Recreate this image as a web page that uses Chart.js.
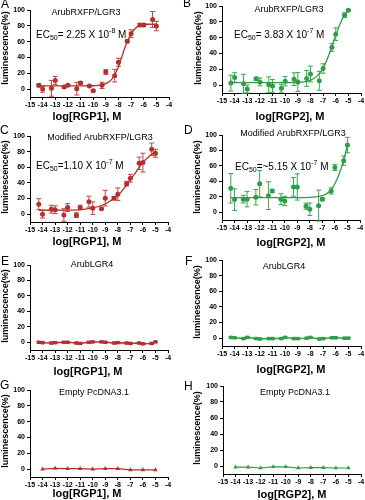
<!DOCTYPE html>
<html>
<head>
<meta charset="utf-8">
<title>RGP1 / RGP2 luminescence</title>
<script src="https://cdn.jsdelivr.net/npm/chart.js"></script>
<style>
  body { margin: 0; background: #fff; }
  #wrap { position: relative; width: 365px; height: 500px; overflow: hidden; }
  #wrap canvas { position: absolute; }
</style>
</head>
<body>
<div id="wrap"></div>
<script>
// log concentrations, M
var logPairs = [-14.3, -14, -13.3, -13, -12.3, -12, -11.3, -11, -10.3, -10, -9.3, -9, -8.3, -8, -7.3, -7, -6.3, -6, -5.3, -5];
var logSingle = [-14, -13, -12, -11, -10, -9, -8, -7, -6, -5];
var yTicks = [0, 20, 40, 60, 80, 100];

// A: ArubRXFP/LGR3, RGP1
var aMean = [4.7, 0, 1, 11, 2.5, 5, 0.5, 7.6, 4, -2, 4.7, 21.6, 17, 34, 60.6, 70, 81, 81, 88, 79.7];
var aErr = [2, 4, 10, 5, 1, 1, 8, 2, 1, 1, 4, 3, 8, 5, 2, 5, 2, 2, 10, 6];
var aFitX = [-14.3, -11, -10, -9.5, -9, -8.5, -8, -7.5, -7, -6.5, -6, -5.5, -5];
var aFitY = [4, 4, 4.2, 5, 7, 13, 28, 52, 70, 79, 82, 82, 82];

// B: ArubRXFP/LGR3, RGP2
var bMean = [2.5, 9.6, 1.7, -5, 8, 4, 0.4, -1, -4, 5, 7.5, 4, 8.4, 14, 5.4, 21, 47.7, 64.4, 88.3, 94.6];
var bErr = [10, 6, 12, 5, 2, 5, 10, 8, 5, 6, 8, 12, 10, 10, 12, 6, 5, 8, 3, 1];
var bFitX = [-14.3, -10, -9, -8.5, -8, -7.5, -7, -6.5, -6, -5.5, -5];
var bFitY = [3, 3, 3.3, 4, 6, 11, 21, 40, 63, 83, 96];

// C: Modified ArubRXFP/LGR3, RGP1
var cMean = [12.8, 0, 6.4, 5.6, -1, 8.5, -1.3, 8.5, 16, 7.7, 6.8, 20.5, 20.5, 25.6, 39, 46, 65, 66, 83, 78];
var cErr = [7, 5, 5, 5, 8, 5, 3, 3, 7, 8, 1, 10, 2, 8, 3, 5, 8, 12, 8, 5];
var cFitX = [-14.3, -12, -11, -10, -9, -8.5, -8, -7.5, -7, -6.5, -6, -5.5, -5];
var cFitY = [5, 5.2, 5.8, 8, 13, 18, 24, 33, 44, 55, 66, 74, 80];

// D: Modified ArubRXFP/LGR3, RGP2
var dMean = [31, 16.4, 17, 17, 19.4, 37, 21.5, 27.6, 17, 14.6, 32.8, 32.8, 7.8, 3.9, 8.6, 17, 27.6, 58, 66.8, 87];
var dErr = [19, 14, 5, 10, 10, 17, 18, 2, 7, 6, 12, 17, 4, 8, 20, 2, 4, 4, 6, 10];
var dFitX = [-14.3, -9, -8, -7.5, -7, -6.5, -6, -5.5, -5];
var dFitY = [19, 19, 19.3, 20, 21.5, 26, 37, 57, 86];

// E: ArubLGR4, RGP1
var eMean = [0, -0.5, -1, -0.5, 0, 0, -1, -1.5, 0, 0.5, 0.5, 0, -1, -0.5, -1, -1.5, -1, -2, -1.5, 0.5];
var eErr = [1, 1, 1, 1, 1, 1, 1, 1, 1, 1, 1, 1, 1, 1, 1, 1, 1, 1, 1, 1];

// F: ArubLGR4, RGP2
var fMean = [1, 0.5, -0.5, 1, -0.5, -1, -0.5, -0.5, -0.5, 1, -0.5, -0.5, 0, 1, -1, -0.5, 0.5, 0.5, 0, 0];
var fErr = [1, 1, 1, 1, 1, 1, 1, 1, 1, 1, 1, 1, 1, 1, 1, 1, 1, 1, 1, 1];

// G / H: Empty PcDNA3.1
var gMean = [0, 1, 0.5, 0.5, 0, 0.5, 0.5, -1, -1, -1];
var hMean = [-1.5, -1.5, -2.5, -1, -1, -2.5, -2, -2, -2.5, -2.5];

var RED = '#b3302e';
var RED_ERR = '#c4443f';
var GREEN = '#2e9e48';
var GREEN_ERR = '#3aa854';
var FONT = '"Liberation Sans", Arial, sans-serif';

var panels = [
  { letter: 'A', x: 0, y: 0, w: 182, h: 125, area: { l: 30, r: 169, t: 10, b: 97 },
    letterPos: [1, -1], title: 'ArubRXFP/LGR3', titlePos: [86, 13], ec: ['= 2.25 X 10', '-8'], ecPos: [36, 35],
    xTitle: 'log[RGP1], M', xTitlePos: [87, 117], yTitlePos: [6, 48],
    color: RED, errColor: RED_ERR, xs: logPairs, mean: aMean, err: aErr, fitX: aFitX, fitY: aFitY },
  { letter: 'B', x: 182, y: 0, w: 183, h: 125, area: { l: 40, r: 180, t: 6, b: 93 },
    letterPos: [1, -2], title: 'ArubRXFP/LGR3', titlePos: [107, 10], ec: ['= 3.83 X 10', '-7'], ecPos: [52, 35],
    xTitle: 'log[RGP2], M', xTitlePos: [108, 117], yTitlePos: [17, 48],
    color: GREEN, errColor: GREEN_ERR, xs: logPairs, mean: bMean, err: bErr, fitX: bFitX, fitY: bFitY },
  { letter: 'C', x: 0, y: 125, w: 182, h: 130, area: { l: 30, r: 168, t: 11, b: 97 },
    letterPos: [0, 0], title: 'Modified ArubRXFP/LGR3', titlePos: [100, 13], ec: ['=1.10 X 10', '-7'], ecPos: [36, 41],
    xTitle: 'log[RGP1], M', xTitlePos: [87, 117], yTitlePos: [6, 52],
    color: RED, errColor: RED_ERR, xs: logPairs, mean: cMean, err: cErr, fitX: cFitX, fitY: cFitY },
  { letter: 'D', x: 182, y: 125, w: 183, h: 130, area: { l: 40, r: 178, t: 10, b: 95 },
    letterPos: [2, 0], title: 'Modified ArubRXFP/LGR3', titlePos: [111, 9], ec: ['=~5.15 X 10', '-7'], ecPos: [53, 42],
    xTitle: 'log[RGP2], M', xTitlePos: [109, 118], yTitlePos: [16, 52],
    color: GREEN, errColor: GREEN_ERR, xs: logPairs, mean: dMean, err: dErr, fitX: dFitX, fitY: dFitY },
  { letter: 'E', x: 0, y: 255, w: 182, h: 125, area: { l: 30, r: 168, t: 10, b: 95 },
    letterPos: [1, 1], title: 'ArubLGR4', titlePos: [92, 10],
    xTitle: 'log[RGP1], M', xTitlePos: [88, 117], yTitlePos: [6, 51],
    color: RED, errColor: RED_ERR, xs: logPairs, mean: eMean, err: eErr, marker: 'rect' },
  { letter: 'F', x: 182, y: 255, w: 183, h: 125, area: { l: 40, r: 180, t: 5, b: 91 },
    letterPos: [3, 1], title: 'ArubLGR4', titlePos: [102, 12],
    xTitle: 'log[RGP2], M', xTitlePos: [109, 115], yTitlePos: [16, 47],
    color: GREEN, errColor: GREEN_ERR, xs: logPairs, mean: fMean, err: fErr, marker: 'rect' },
  { letter: 'G', x: 0, y: 380, w: 182, h: 120, area: { l: 30, r: 168, t: 10, b: 97 },
    letterPos: [0, 0], title: 'Empty PcDNA3.1', titlePos: [94, 13],
    xTitle: 'log[RGP1], M', xTitlePos: [87, 114], yTitlePos: [6, 51],
    color: RED, errColor: RED_ERR, xs: logSingle, mean: gMean, marker: 'triangle' },
  { letter: 'H', x: 182, y: 380, w: 183, h: 120, area: { l: 41, r: 180, t: 6, b: 94 },
    letterPos: [2, 1], title: 'Empty PcDNA3.1', titlePos: [113, 13],
    xTitle: 'log[RGP2], M', xTitlePos: [110, 115], yTitlePos: [16, 48],
    color: GREEN, errColor: GREEN_ERR, xs: logSingle, mean: hMean, marker: 'triangle' }
];

function pts(xs, ys) {
  return xs.map(function (x, i) { return { x: x, y: ys[i] }; });
}

function drawEc(ctx, x, y, rest, exp) {
  var big = '10px ' + FONT, small = '7px ' + FONT;
  var parts = [['EC', big, 0], ['50', small, 3], [rest, big, 0], [exp, small, -4], [' M', big, 0]];
  ctx.textAlign = 'left';
  ctx.textBaseline = 'middle';
  parts.forEach(function (p) {
    ctx.font = p[1];
    ctx.fillText(p[0], x, y + p[2]);
    x += ctx.measureText(p[0]).width;
  });
}

// error bars and panel text
function panelPlugin(p) {
  return {
    id: 'panel' + p.letter,
    beforeDatasetsDraw: function (chart) {
      var ctx = chart.ctx, ys = chart.scales.y;
      chart.data.datasets.forEach(function (ds, di) {
        if (!ds.errors) return;
        var meta = chart.getDatasetMeta(di);
        ctx.save();
        ctx.strokeStyle = p.errColor;
        ctx.lineWidth = 1;
        meta.data.forEach(function (el, i) {
          var v = ds.data[i].y, e = ds.errors[i];
          var y1 = ys.getPixelForValue(v + e), y2 = ys.getPixelForValue(v - e);
          ctx.beginPath();
          ctx.moveTo(el.x, y1); ctx.lineTo(el.x, y2);
          ctx.moveTo(el.x - 2.5, y1); ctx.lineTo(el.x + 2.5, y1);
          ctx.moveTo(el.x - 2.5, y2); ctx.lineTo(el.x + 2.5, y2);
          ctx.stroke();
        });
        ctx.restore();
      });
    },
    afterDraw: function (chart) {
      var ctx = chart.ctx;
      ctx.save();
      ctx.fillStyle = '#000';
      ctx.font = '12px ' + FONT;
      ctx.textAlign = 'left';
      ctx.textBaseline = 'top';
      ctx.fillText(p.letter, p.letterPos[0], p.letterPos[1]);

      ctx.font = '9px ' + FONT;
      ctx.textAlign = 'center';
      ctx.textBaseline = 'middle';
      ctx.fillText(p.title, p.titlePos[0], p.titlePos[1]);

      if (p.ec) drawEc(ctx, p.ecPos[0], p.ecPos[1], p.ec[0], p.ec[1]);

      ctx.font = 'bold 11px ' + FONT;
      ctx.textAlign = 'center';
      ctx.textBaseline = 'middle';
      ctx.fillText(p.xTitle, p.xTitlePos[0], p.xTitlePos[1]);

      ctx.translate(p.yTitlePos[0], p.yTitlePos[1]);
      ctx.rotate(-Math.PI / 2);
      ctx.font = 'bold 9px ' + FONT;
      ctx.fillText('luminescence(%)', 0, 0);
      ctx.restore();
    }
  };
}

function makePanel(p) {
  var canvas = document.createElement('canvas');
  canvas.width = p.w;
  canvas.height = p.h;
  canvas.style.left = p.x + 'px';
  canvas.style.top = p.y + 'px';
  canvas.style.width = p.w + 'px';
  canvas.style.height = p.h + 'px';
  document.getElementById('wrap').appendChild(canvas);

  var datasets = [];
  if (p.fitX) {
    datasets.push({
      type: 'line', data: pts(p.fitX, p.fitY), borderColor: p.color, borderWidth: 1.3,
      pointRadius: 0, cubicInterpolationMode: 'monotone', fill: false
    });
    datasets.push({
      type: 'scatter', data: pts(p.xs, p.mean), errors: p.err, backgroundColor: p.color,
      borderColor: p.color, borderWidth: 0, pointRadius: 2.5
    });
  } else {
    datasets.push({
      type: 'line', data: pts(p.xs, p.mean), errors: p.err, borderColor: p.color,
      backgroundColor: p.color, borderWidth: p.marker === 'rect' ? 1.5 : 1.2, pointStyle: p.marker,
      pointRadius: p.marker === 'rect' ? 2.5 : 2.6, pointBorderWidth: 0, tension: 0, fill: false
    });
  }

  var tickFont = { family: FONT, size: 7, weight: 'bold' };
  var axisGrid = { drawOnChartArea: false, drawTicks: true, tickLength: 3, color: '#000', tickColor: '#000' };
  var axisBorder = { display: true, color: '#000', width: 1 };

  new Chart(canvas, {
    data: { datasets: datasets },
    options: {
      responsive: false,
      animation: false,
      events: [],
      layout: { padding: { left: 0, top: p.area.t, right: p.w - p.area.r, bottom: 0 } },
      plugins: { legend: { display: false }, tooltip: { enabled: false }, title: { display: false } },
      scales: {
        x: {
          type: 'linear', min: -15, max: -4,
          ticks: { stepSize: 1, autoSkip: false, minRotation: 0, maxRotation: 0, padding: 1, color: '#000', font: tickFont },
          grid: axisGrid, border: axisBorder,
          afterFit: function (s) { s.height = p.h - p.area.b; s.paddingLeft = 0; s.paddingRight = 0; }
        },
        y: {
          type: 'linear', min: -10, max: 100,
          afterBuildTicks: function (s) { s.ticks = yTicks.map(function (v) { return { value: v }; }); },
          ticks: { padding: 2, color: '#000', font: tickFont },
          grid: axisGrid, border: axisBorder,
          afterFit: function (s) { s.width = p.area.l; s.paddingTop = 0; s.paddingBottom = 0; }
        }
      }
    },
    plugins: [panelPlugin(p)]
  });
}

panels.forEach(makePanel);
</script>
</body>
</html>
